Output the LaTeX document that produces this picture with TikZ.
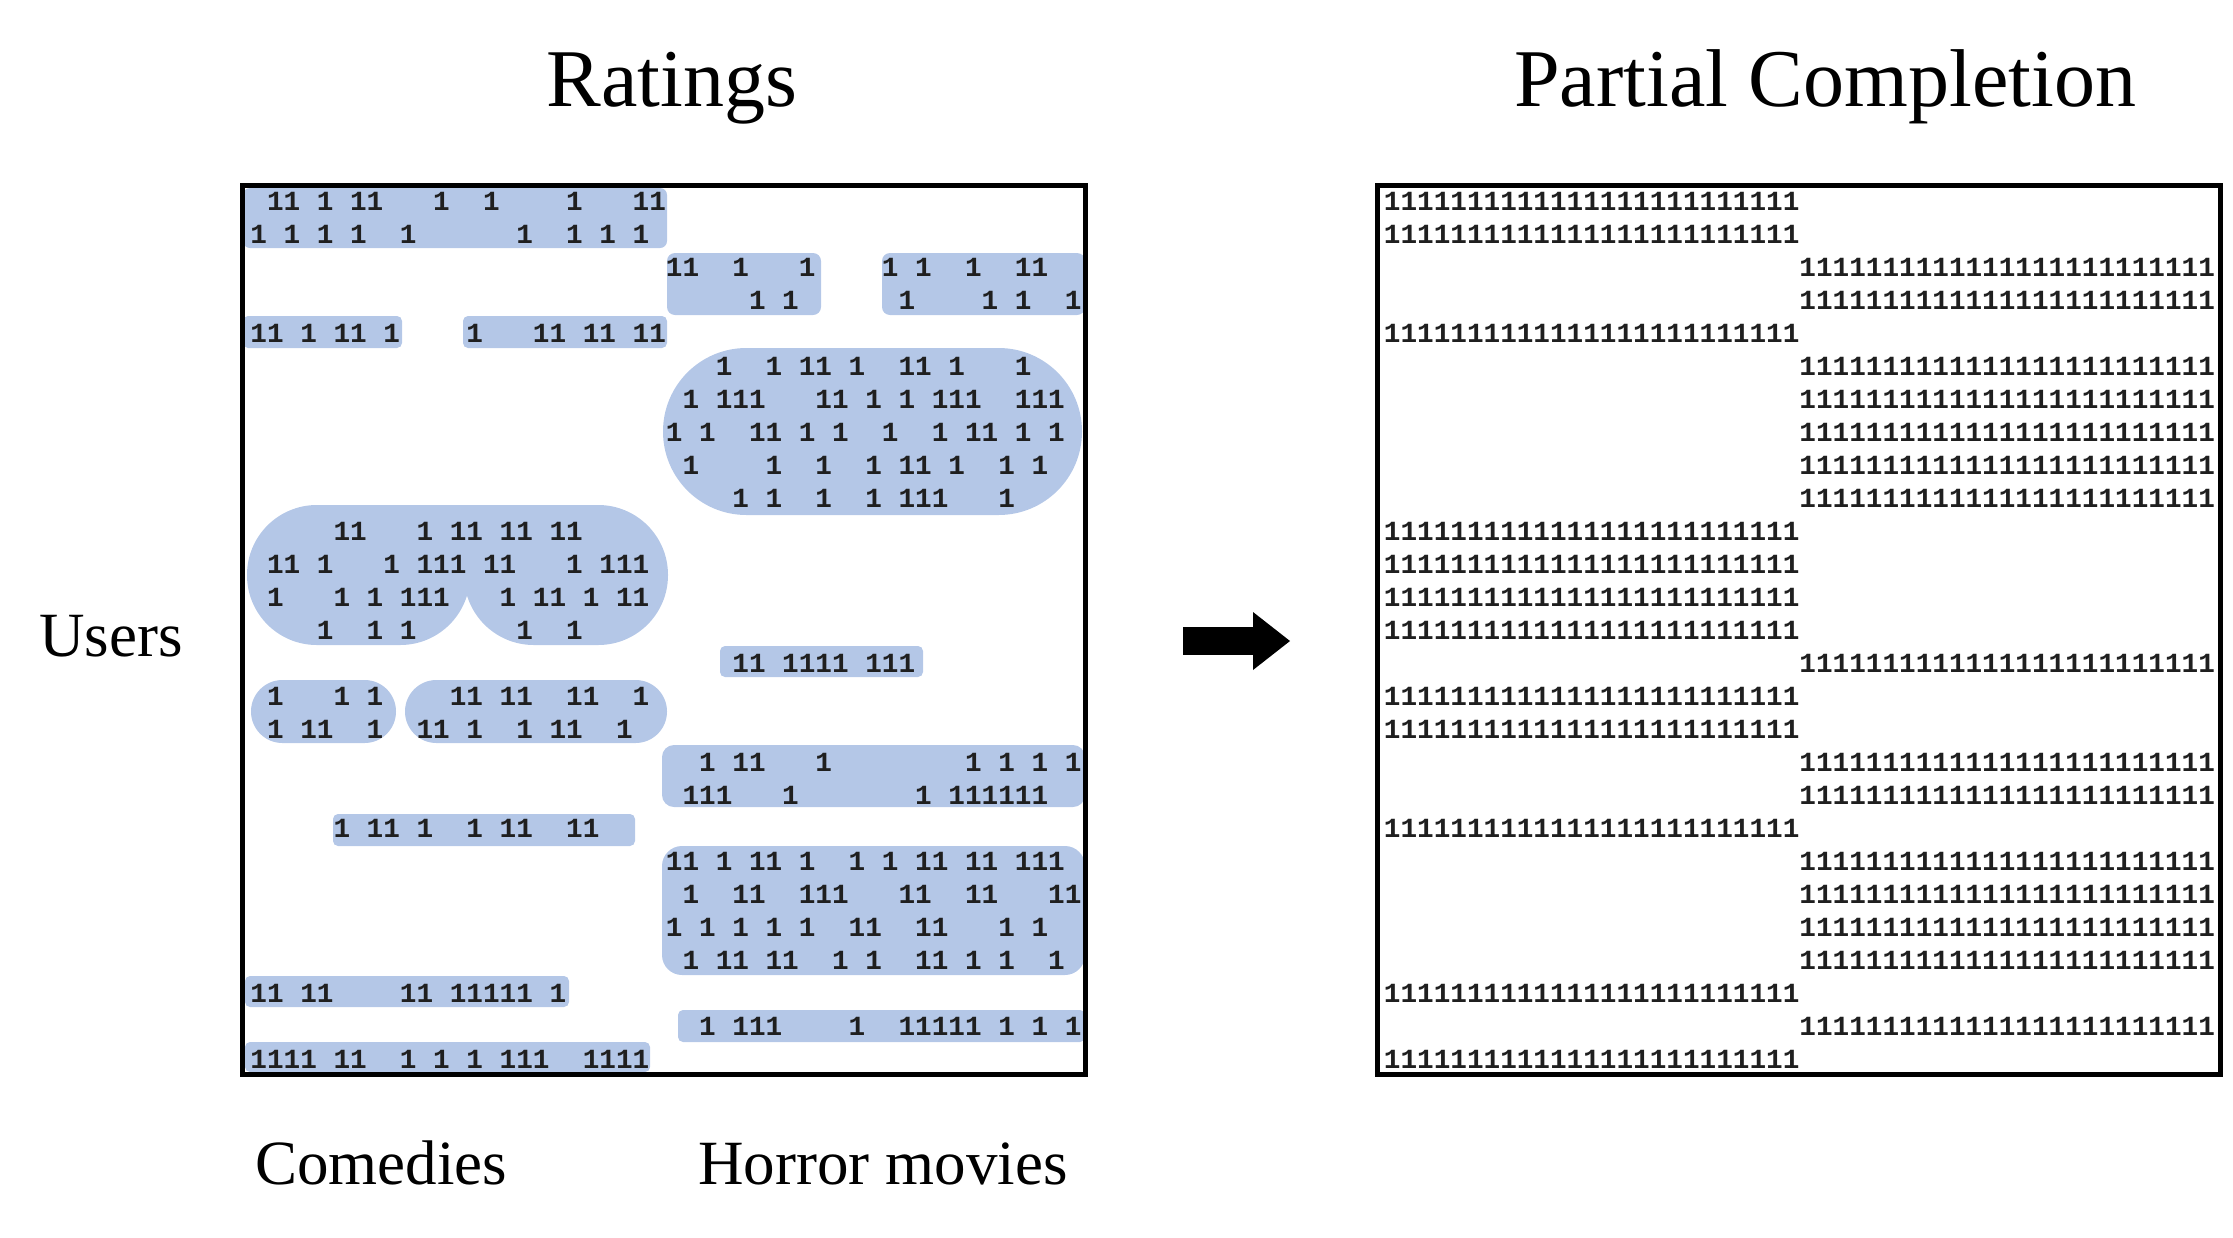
\documentclass[tikz,border=0pt]{standalone}
\usepackage{fontspec}
\setmainfont{Liberation Serif}
\setmonofont{Liberation Mono}
\usetikzlibrary{arrows.meta}
\definecolor{cellfill}{HTML}{B4C7E7}

\begin{document}
\begin{tikzpicture}[
  x=0.5pt, y=-0.5pt,
  hl/.style={fill=cellfill},
  one/.style={anchor=base west, inner sep=0pt, text=black!88, font=\ttfamily\bfseries\fontsize{13.85pt}{16pt}\selectfont},
  matbox/.style={draw, line width=2.5pt, minimum width=421.5pt, minimum height=444.5pt, inner sep=0pt, outer sep=0pt, anchor=north west},
  title/.style={anchor=base, inner sep=0pt, font=\fontsize{41pt}{48pt}\selectfont},
  axis/.style={anchor=base, inner sep=0pt, font=\fontsize{31.5pt}{38pt}\selectfont},
  bigarrow/.style={line width=14pt, -{Triangle[length=18.5pt, width=29pt, line width=0pt]}}
]
  \useasboundingbox (0,0) rectangle (2233,1237);

  % blocks of known ratings
  \fill[hl, rounded corners=3.5pt] (243,188) rectangle (667,248);
  \fill[hl, rounded corners=4pt] (667,253) rectangle (821,315);
  \fill[hl, rounded corners=4pt] (882,253) rectangle (1085,315);
  \fill[hl, rounded corners=2.5pt] (243,316) rectangle (402,348);
  \fill[hl, rounded corners=2.5pt] (463,316) rectangle (667,348);
  \fill[hl, rounded corners=41.7pt] (663,348) rectangle (1082,515);
  \fill[hl, rounded corners=34.9pt] (247,505) rectangle (470,645);
  \fill[hl, rounded corners=34.9pt] (464,505) rectangle (668,645);
  \fill[hl] (400,505) rectangle (540,575);
  \fill[hl, rounded corners=2.5pt] (720,646) rectangle (923,677);
  \fill[hl, rounded corners=15.7pt] (251,680) rectangle (396,743);
  \fill[hl, rounded corners=15.7pt] (405,680) rectangle (667,743);
  \fill[hl, rounded corners=6pt] (662,745) rectangle (1085,807);
  \fill[hl, rounded corners=2.5pt] (333,814) rectangle (635,846);
  \fill[hl, rounded corners=10pt] (662,846) rectangle (1085,975);
  \fill[hl, rounded corners=2.5pt] (245,976) rectangle (569,1007);
  \fill[hl, rounded corners=2.5pt] (678,1010) rectangle (1085,1042);
  \fill[hl, rounded corners=2.5pt] (245,1042) rectangle (650,1072);

  % observed ratings, row/columns
  \foreach \r/\cols in {
    0/{1,2,4,6,7,11,14,19,23,24},
    1/{0,2,4,6,9,16,19,21,23},
    2/{25,26,29,33,38,40,43,46,47},
    3/{30,32,39,44,46,49},
    4/{0,1,3,5,6,8,13,17,18,20,21,23,24},
    5/{28,31,33,34,36,39,40,42,46},
    6/{26,28,29,30,34,35,37,39,41,42,43,46,47,48},
    7/{25,27,30,31,33,35,38,41,43,44,46,48},
    8/{26,31,34,37,39,40,42,45,47},
    9/{29,31,34,37,39,40,41,45},
    10/{5,6,10,12,13,15,16,18,19},
    11/{1,2,4,8,10,11,12,14,15,19,21,22,23},
    12/{1,5,7,9,10,11,15,17,18,20,22,23},
    13/{4,7,9,16,19},
    14/{29,30,32,33,34,35,37,38,39},
    15/{1,5,7,12,13,15,16,19,20,23},
    16/{1,3,4,7,10,11,13,16,18,19,22},
    17/{27,29,30,34,43,45,47,49},
    18/{26,27,28,32,40,42,43,44,45,46,47},
    19/{5,7,8,10,13,15,16,19,20},
    20/{25,26,28,30,31,33,36,38,40,41,43,44,46,47,48},
    21/{26,29,30,33,34,35,39,40,43,44,48,49},
    22/{25,27,29,31,33,36,37,40,41,45,47},
    23/{26,28,29,31,32,35,37,40,41,43,45,48},
    24/{0,1,3,4,9,10,12,13,14,15,16,18},
    25/{27,29,30,31,36,39,40,41,42,43,45,47,49},
    26/{0,1,2,3,5,6,9,11,13,15,16,17,20,21,22,23}} {
    \foreach \c in \cols {
      \node[one] (l-\r-\c) at ({250+16.62*\c}, {210+33*\r}) {1};
    }
  }

  % completed rows: 0 = comedies, 1 = horror movies
  \foreach \r/\side in {0/0,1/0,2/1,3/1,4/0,5/1,6/1,7/1,8/1,9/1,10/0,11/0,12/0,13/0,
      14/1,15/0,16/0,17/1,18/1,19/0,20/1,21/1,22/1,23/1,24/0,25/1,26/0} {
    \node[one] (c-\r) at ({1383.5+415.5*\side}, {210+33*\r}) {1111111111111111111111111};
  }

  \node[matbox] (ratings) at (242.5,185.5) {};
  \node[matbox] (completion) at (1377.5,185.5) {};

  \node[title] (ratings-title) at (672,106) {Ratings};
  \node[title] (completion-title) at (1825,106) {Partial Completion};
  \node[axis] (users) at (111,656) {Users};
  \node[axis] (comedies) at (381,1184) {Comedies};
  \node[axis] (horror) at (883,1184) {Horror movies};

  \coordinate (arrtail) at (1183,641);
  \coordinate (arrhead) at (1290,641);
  \draw[bigarrow] (arrtail) -- (arrhead);
\end{tikzpicture}
\end{document}
